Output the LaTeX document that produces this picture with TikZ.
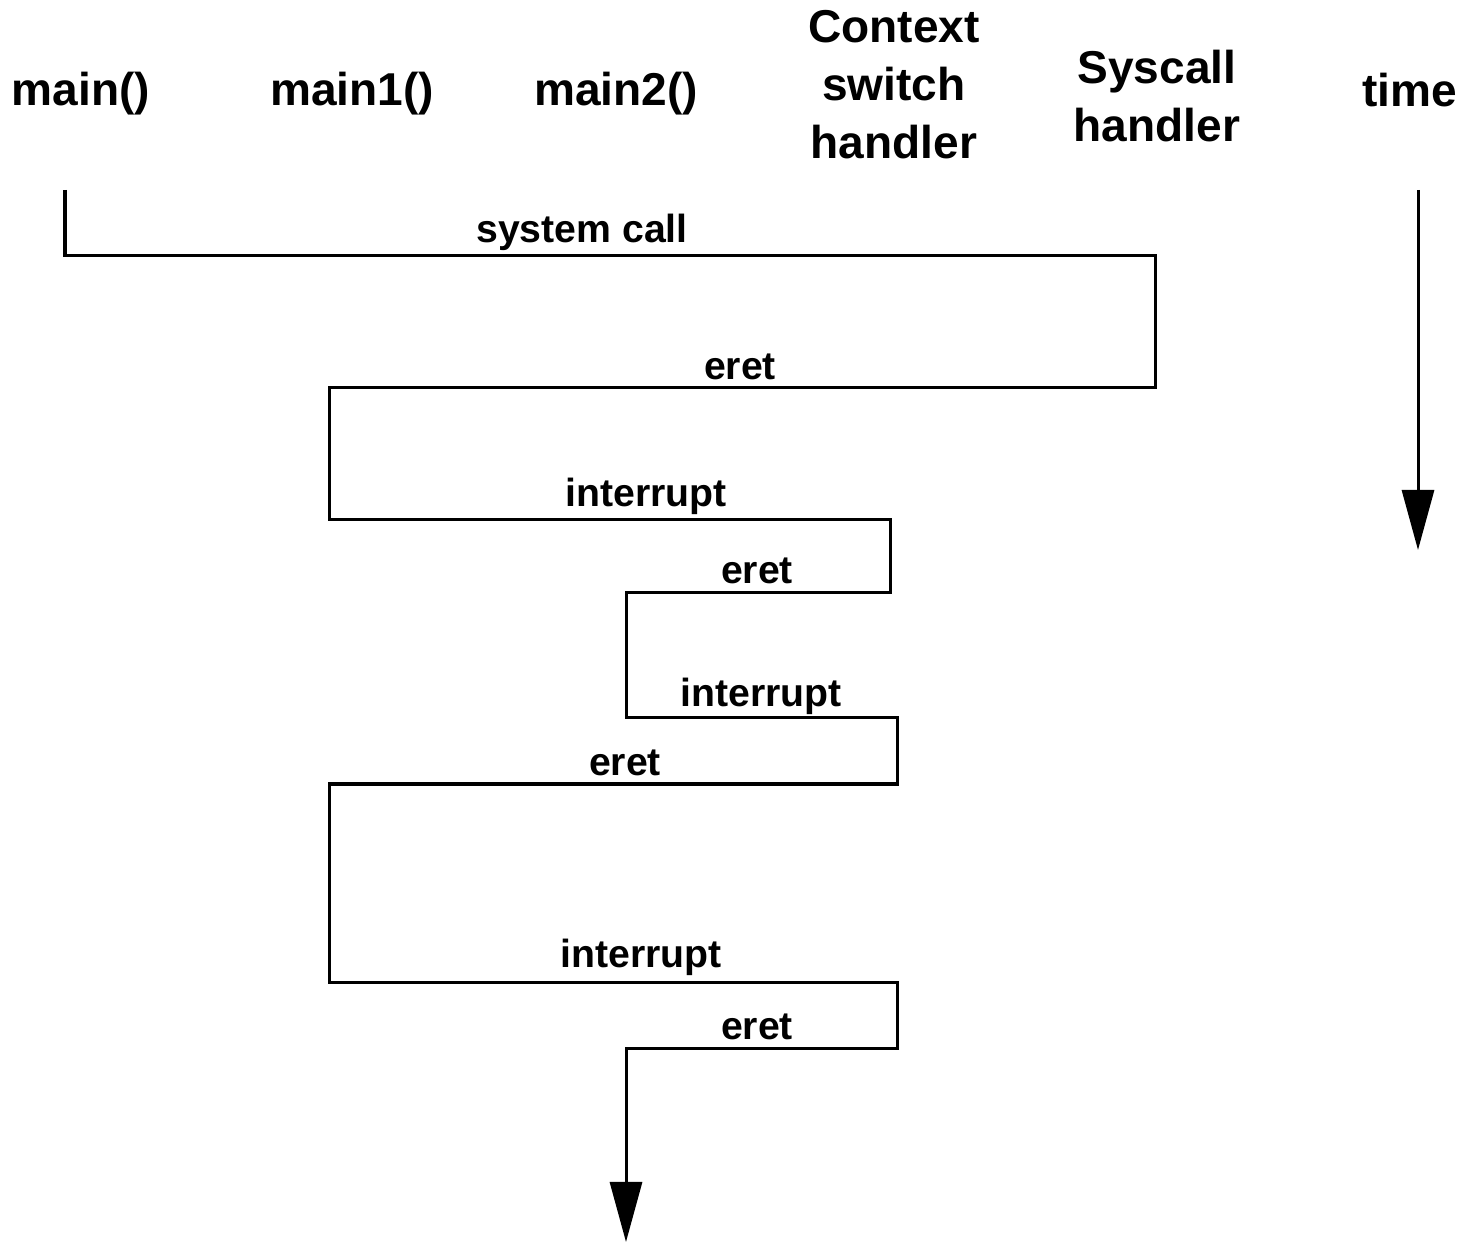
\documentclass[tikz,border=0pt]{standalone}
\usepackage{fontspec}
\setmainfont{Liberation Sans}
\usepackage{tikz}
\usetikzlibrary{arrows.meta,positioning}

\tikzset{
  head/.style={font=\fontsize{13.1}{16.5}\selectfont\bfseries, inner sep=0pt, align=center},
  lbl/.style={font=\fontsize{11.15}{13}\selectfont\bfseries, inner sep=0pt, anchor=base},
  flow/.style={line width=0.03cm, line join=miter}
}

\begin{document}
\begin{tikzpicture}[>={Triangle[width=0.32cm,length=0.6cm]}, x=0.01cm, y=-0.01cm]
\useasboundingbox (0,0) rectangle (1475,1243);
% column headings
\node[head, anchor=base] (main) at (81,106) {main()};
\node[head, anchor=base] (mainone) at (352,106) {main1()};
\node[head, anchor=base] (maintwo) at (616,106) {main2()};
\node[head, anchor=south] (ctx) at (894,160) {Context\\switch\\handler};
\node[head, anchor=south] (sys) at (1157,143) {Syscall\\handler};
\node[head, anchor=base] (time) at (1410,107) {time};
% flow of control
\coordinate (start) at (65,190);
\coordinate (finish) at (626,1242);
\draw[flow,->] (start) |- (1155,256) |- (329,388) |- (890,520) |- (626,593)
  |- (897,718) |- (329,784) |- (897,982) |- (626,1048) -- (finish);
\node[lbl] (sc) at (582,243) {system call};
\node[lbl] (er1) at (740,380) {eret};
\node[lbl] (ir1) at (646,507) {interrupt};
\node[lbl] (er2) at (757,584) {eret};
\node[lbl] (ir2) at (761,707) {interrupt};
\node[lbl] (er3) at (625,775) {eret};
\node[lbl] (ir3) at (641,968) {interrupt};
\node[lbl] (er4) at (757,1039) {eret};
% time axis
\coordinate (tstart) at (1418,190);
\coordinate (tend) at (1418,550);
\draw[flow,->] (tstart) -- (tend);
\end{tikzpicture}
\end{document}
